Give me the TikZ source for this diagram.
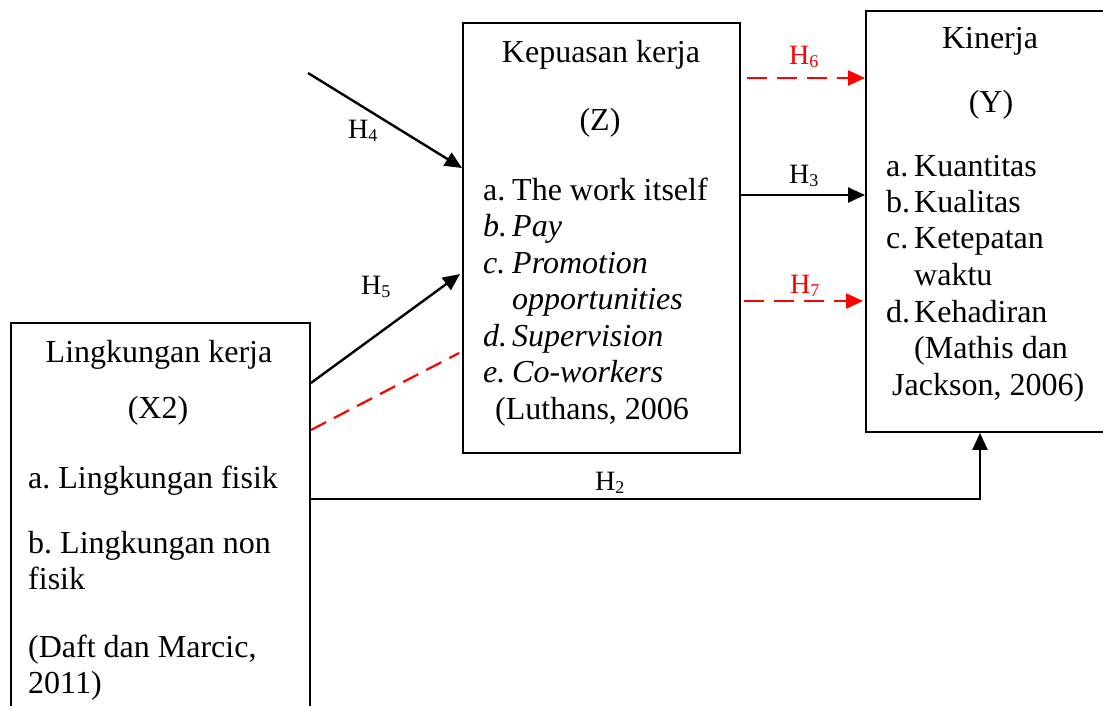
\documentclass[tikz,border=0pt]{standalone}
\usepackage{fontspec}
\setmainfont{Liberation Serif}
\usetikzlibrary{arrows.meta}
\newcommand{\Hsub}[1]{H\raisebox{-3pt}{\fontsize{18}{18}\selectfont #1}}
\frenchspacing
\begin{document}
\begin{tikzpicture}[x=1pt,y=-1pt,
  box/.style={draw, line width=1.9pt, inner sep=0pt, anchor=north west},
  txt/.style={anchor=base west, inner sep=0pt, font=\fontsize{32}{36.8}\selectfont},
  ctxt/.style={anchor=base, inner sep=0pt, font=\fontsize{32}{36.8}\selectfont},
  lbl/.style={anchor=base west, inner sep=0pt, font=\fontsize{28}{30}\selectfont},
  arr/.style={line width=2.4pt, -{Triangle[length=17pt,width=15pt]}},
  rdash/.style={red, line width=2.2pt, dash pattern=on 20pt off 10pt},
  rarr/.style={rdash, -{Triangle[length=17pt,width=15pt]}}
]
\useasboundingbox (0,0) rectangle (1103,705);
\fill[white] (0,0) rectangle (1103,705);

% boxes
\node[box, minimum width=299pt, minimum height=420pt] (X) at (10,322) {};
\node[box, minimum width=277pt, minimum height=430pt] (Z) at (462,22) {};
\node[box, minimum width=260pt, minimum height=421pt] (Y) at (865,10) {};

% left box text
\node[ctxt] (x1) at (159,362) {Lingkungan kerja};
\node[ctxt] (x2) at (158,418) {(X2)};
\node[txt] (x3) at (28,488) {a. Lingkungan fisik};
\node[txt] (x4) at (28,553) {b. Lingkungan non};
\node[txt] (x5) at (28,589) {fisik};
\node[txt] (x6) at (28,657) {(Daft dan Marcic,};
\node[txt] (x7) at (28,693) {2011)};

% middle box text
\node[ctxt] (z1) at (601,62) {Kepuasan kerja};
\node[ctxt] (z2) at (600,130) {(Z)};
\node[txt] (za) at (483,200) {a.};
\node[txt] (zat) at (512,200) {The work itself};
\node[txt] (zb) at (483,236.5) {\itshape b.};
\node[txt] (zbt) at (512,236.5) {\itshape Pay};
\node[txt] (zc) at (483,273) {\itshape c.};
\node[txt] (zct) at (512,273) {\itshape Promotion};
\node[txt] (zct2) at (512,309.5) {\itshape opportunities};
\node[txt] (zd) at (483,346) {\itshape d.};
\node[txt] (zdt) at (512,346) {\itshape Supervision};
\node[txt] (ze) at (483,382.5) {\itshape e.};
\node[txt] (zet) at (512,382.5) {\itshape Co-workers};
\node[txt] (zref) at (495,419) {(Luthans, 2006};

% right box text
\node[ctxt] (y1) at (990,48) {Kinerja};
\node[ctxt] (y2) at (991,112) {(Y)};
\node[txt] (ya) at (886,176) {a.};
\node[txt] (yat) at (914,176) {Kuantitas};
\node[txt] (yb) at (886,212) {b.};
\node[txt] (ybt) at (914,212) {Kualitas};
\node[txt] (yc) at (886,248.5) {c.};
\node[txt] (yct) at (914,248.5) {Ketepatan};
\node[txt] (yct2) at (914,285) {waktu};
\node[txt] (yd) at (886,322) {d.};
\node[txt] (ydt) at (914,322) {Kehadiran};
\node[txt] (yref1) at (914,358) {(Mathis dan};
\node[txt] (yref2) at (892,395) {Jackson, 2006)};

% connectors
\coordinate (h4s) at (308,73);
\draw[arr] (h4s) -- ([yshift=-146pt]Z.north west);
\draw[arr] ([yshift=-61pt]X.north east) -- ([shift={(-2pt,-252pt)}]Z.north west);
\draw[rdash, dash pattern=on 17pt off 9pt] ([yshift=-108pt]X.north east) -- ([shift={(-3pt,-331pt)}]Z.north west);
\draw[rarr] ([shift={(6pt,-56pt)}]Z.north east) -- ([yshift=-68pt]Y.north west);
\draw[arr] ([yshift=-173pt]Z.north east) -- ([yshift=-185pt]Y.north west);
\draw[rarr] ([shift={(3pt,-279pt)}]Z.north east) -- ([shift={(-2pt,-291pt)}]Y.north west);
\draw[arr] ([yshift=-177pt]X.north east) -| ([xshift=115pt]Y.south west);

% labels
\node[lbl] (h4) at (348,138) {\Hsub{4}};
\node[lbl] (h5) at (361,294) {\Hsub{5}};
\node[lbl, text=red] (h6) at (789,64) {\Hsub{6}};
\node[lbl] (h3) at (789,183) {\Hsub{3}};
\node[lbl, text=red] (h7) at (790,293) {\Hsub{7}};
\node[lbl] (h2) at (595,490) {\Hsub{2}};
\end{tikzpicture}
\end{document}
